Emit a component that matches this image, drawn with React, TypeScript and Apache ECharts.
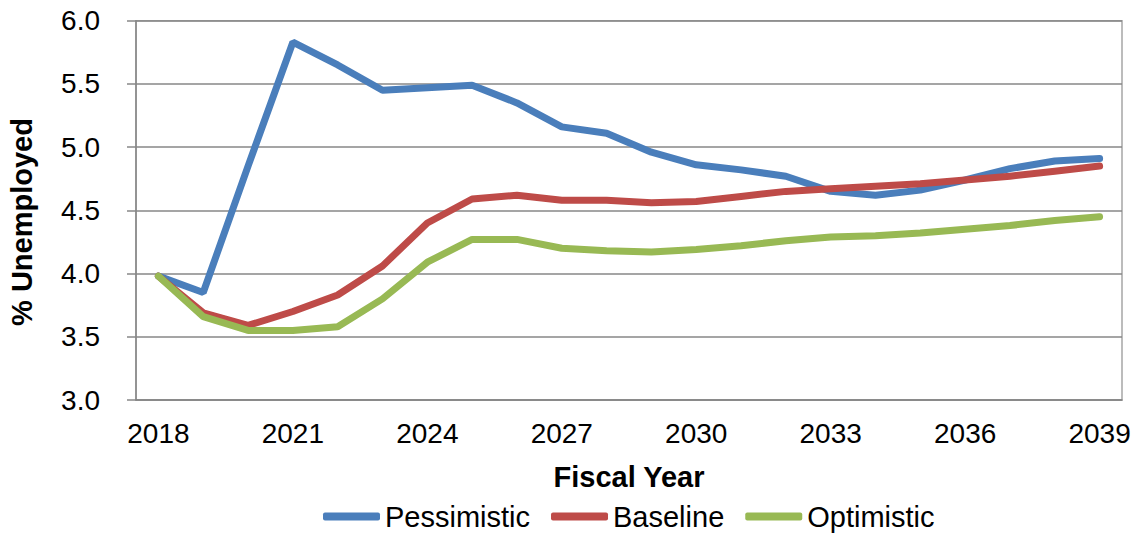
import React, { useEffect, useRef } from "react";
import * as echarts from "echarts";

const years = [
  "2018", "2019", "2020", "2021", "2022", "2023", "2024", "2025", "2026", "2027", "2028",
  "2029", "2030", "2031", "2032", "2033", "2034", "2035", "2036", "2037", "2038", "2039",
];
const pessimistic = [
  3.98, 3.85, 4.85, 5.83, 5.65, 5.45, 5.47, 5.49, 5.35, 5.16, 5.11,
  4.96, 4.86, 4.82, 4.77, 4.65, 4.62, 4.66, 4.74, 4.83, 4.89, 4.91,
];
const baseline = [
  3.98, 3.69, 3.59, 3.7, 3.83, 4.06, 4.4, 4.59, 4.62, 4.58, 4.58,
  4.56, 4.57, 4.61, 4.65, 4.67, 4.69, 4.71, 4.74, 4.77, 4.81, 4.85,
];
const optimistic = [
  3.98, 3.66, 3.55, 3.55, 3.58, 3.8, 4.09, 4.27, 4.27, 4.2, 4.18,
  4.17, 4.19, 4.22, 4.26, 4.29, 4.3, 4.32, 4.35, 4.38, 4.42, 4.45,
];
const seriesNames = ["Pessimistic", "Baseline", "Optimistic"];
const colors = ["#4A7EBB", "#BE4B48", "#98B954"];

const FONT = "'Liberation Sans', Arial, sans-serif";

export default function App() {
  const ref = useRef<HTMLDivElement>(null);
  useEffect(() => {
    if (!ref.current) return;
    const chart = echarts.init(ref.current, null, { renderer: "svg" });
    const data = [pessimistic, baseline, optimistic];
    chart.setOption({
      animation: false,
      backgroundColor: "#ffffff",
      textStyle: { fontFamily: FONT },
      grid: {
        left: 136,
        right: 17,
        top: 20.7,
        bottom: 135,
        show: true,
        borderColor: "#A6A6A6",
        borderWidth: 1.5,
      },
      legend: {
        left: 318,
        top: 497,
        itemWidth: 57,
        itemHeight: 8,
        itemGap: 21,
        icon: "roundRect",
        textStyle: { fontSize: 29, color: "#000", fontFamily: FONT },
        data: seriesNames,
      },
      graphic: [
        {
          type: "text",
          x: 22,
          y: 222,
          rotation: Math.PI / 2,
          style: {
            text: "% Unemployed",
            fontSize: 29,
            fontWeight: "bold",
            fontFamily: FONT,
            fill: "#000",
            align: "center",
            verticalAlign: "middle",
          },
        },
      ],
      xAxis: {
        type: "category",
        data: years,
        boundaryGap: true,
        name: "Fiscal Year",
        nameLocation: "middle",
        nameGap: 62,
        nameTextStyle: { fontSize: 29, fontWeight: "bold", color: "#000", fontFamily: FONT },
        axisLine: { lineStyle: { color: "#878787", width: 1.5 } },
        axisTick: { show: false },
        axisLabel: { interval: 2, fontSize: 28, color: "#000", margin: 19, fontFamily: FONT },
        splitLine: { show: false },
      },
      yAxis: {
        type: "value",
        min: 3,
        max: 6,
        interval: 0.5,
        axisLine: { show: true, lineStyle: { color: "#878787", width: 1.5 } },
        axisTick: { show: true, length: 9, lineStyle: { color: "#878787", width: 1.5 } },
        axisLabel: {
          fontSize: 28,
          color: "#000",
          margin: 36,
          fontFamily: FONT,
          formatter: (v: number) => v.toFixed(1),
        },
        splitLine: { show: true, lineStyle: { color: "#878787", width: 1.5 } },
      },
      series: seriesNames.map((name, i) => ({
        name,
        type: "line",
        data: data[i],
        showSymbol: false,
        symbol: "none",
        color: colors[i],
        lineStyle: { color: colors[i], width: 7, cap: "round" },
      })),
    });
    return () => chart.dispose();
  }, []);
  return (
    <div
      ref={ref}
      style={{ position: "absolute", left: 0, top: 0, width: 1139, height: 535 }}
    />
  );
}
